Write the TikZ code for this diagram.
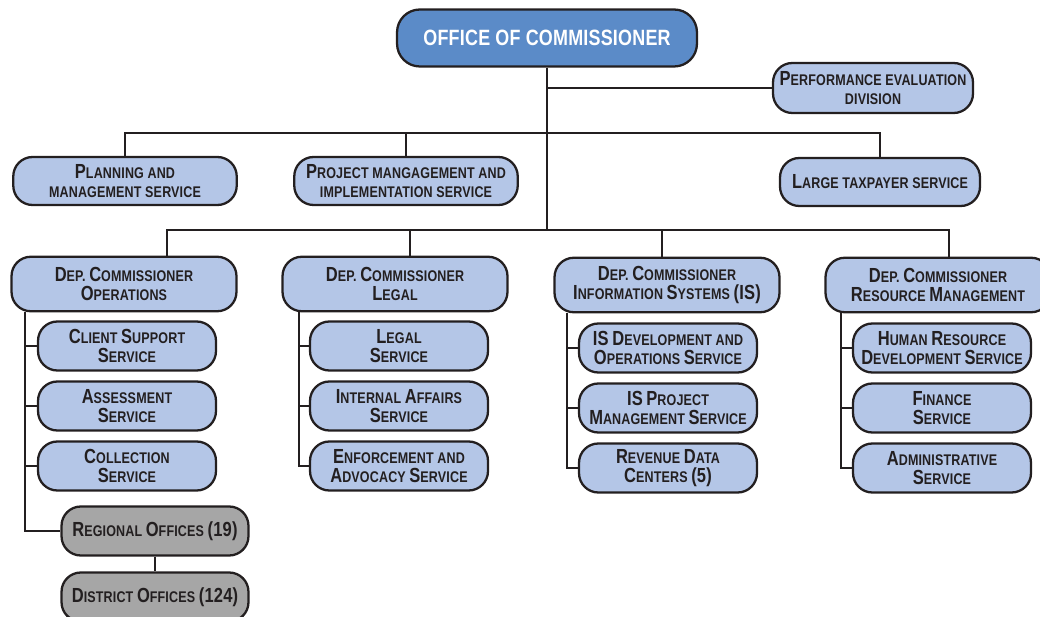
\documentclass[tikz,border=0pt]{standalone}
\usepackage{fontspec}
\newfontfamily\orgfont[FakeStretch=0.81,LetterSpace=1]{Liberation Sans}
\usetikzlibrary{positioning}
\definecolor{topblue}{HTML}{5B8BC8}
\definecolor{boxblue}{HTML}{B4C6E7}
\definecolor{boxgray}{HTML}{A6A6A6}
\definecolor{inkdark}{HTML}{231F20}
\newcommand\capl[1]{{\fontsize{11.6}{12}\selectfont #1}}

\begin{document}
\begin{tikzpicture}[x=0.02cm,y=-0.02cm,line width=1.1pt,draw=inkdark,
  box/.style={draw=inkdark,line width=1.3pt,rounded corners=11pt,fill=boxblue,
    text=inkdark,align=center,inner sep=0pt,
    font=\orgfont\bfseries\fontsize{8.8}{11.2}\selectfont},
  depbox/.style={box,minimum width=4.5cm,minimum height=1.09cm},
  subbox/.style={box,minimum width=3.56cm,minimum height=0.98cm},
  topbox/.style={box,minimum width=4.47cm,minimum height=0.96cm},
  greybox/.style={subbox,fill=boxgray,minimum width=3.74cm}]
\path[use as bounding box] (0,0) rectangle (1040,617);

% head office
\node[box,fill=topblue,text=white,minimum width=6cm,minimum height=1.14cm,
  rounded corners=13pt,font=\orgfont\bfseries\fontsize{12.6}{14}\selectfont] (oc) at (547,38)
  {OFFICE OF COMMISSIONER};
\node[box,minimum width=4cm,minimum height=1cm] (ped) at (873,88)
  {\capl{P}ERFORMANCE EVALUATION\\DIVISION};

% staff units
\node[topbox] (pms) at (125,181) {\capl{P}LANNING AND\\MANAGEMENT SERVICE};
\node[topbox] (pmis) at (406,181) {\capl{P}ROJECT MANGAGEMENT AND\\IMPLEMENTATION SERVICE};
\node[topbox,minimum width=4cm] (lts) at (880,182) {\capl{L}ARGE TAXPAYER SERVICE};

% deputy commissioners
\node[depbox] (dco) at (124,284) {\capl{D}EP. \capl{C}OMMISSIONER\\\capl{O}PERATIONS};
\node[depbox] (dcl) at (395,284) {\capl{D}EP. \capl{C}OMMISSIONER\\\capl{L}EGAL};
\node[depbox] (dcis) at (667,285) {\capl{D}EP. \capl{C}OMMISSIONER\\\capl{I}NFORMATION \capl{S}YSTEMS \capl{(IS)}};
\node[depbox] (dcrm) at (938,285) {\capl{D}EP. \capl{C}OMMISSIONER\\\capl{R}ESOURCE \capl{M}ANAGEMENT};

% operations
\node[subbox] (css) at (127,346) {\capl{C}LIENT \capl{S}UPPORT\\\capl{S}ERVICE};
\node[subbox] (ass) at (127,406) {\capl{A}SSESSMENT\\\capl{S}ERVICE};
\node[subbox] (cls) at (127,466) {\capl{C}OLLECTION\\\capl{S}ERVICE};
\node[greybox] (rgo) at (155,531) {\capl{R}EGIONAL \capl{O}FFICES \capl{(19)}};
\node[greybox] (dso) at (155,597) {\capl{D}ISTRICT \capl{O}FFICES \capl{(124)}};

% legal
\node[subbox] (lgs) at (399,346) {\capl{L}EGAL\\\capl{S}ERVICE};
\node[subbox] (ias) at (399,406) {\capl{I}NTERNAL \capl{A}FFAIRS\\\capl{S}ERVICE};
\node[subbox] (eas) at (399,466) {\capl{E}NFORCEMENT AND\\\capl{A}DVOCACY \capl{S}ERVICE};

% information systems
\node[subbox] (isd) at (668,348) {\capl{IS} \capl{D}EVELOPMENT AND\\\capl{O}PERATIONS \capl{S}ERVICE};
\node[subbox] (isp) at (668,408) {\capl{IS} \capl{P}ROJECT\\\capl{M}ANAGEMENT \capl{S}ERVICE};
\node[subbox] (rdc) at (668,468) {\capl{R}EVENUE \capl{D}ATA\\\capl{C}ENTERS \capl{(5)}};

% resource management
\node[subbox] (hrd) at (942,348) {\capl{H}UMAN \capl{R}ESOURCE\\\capl{D}EVELOPMENT \capl{S}ERVICE};
\node[subbox] (fns) at (942,408) {\capl{F}INANCE\\\capl{S}ERVICE};
\node[subbox] (ads) at (942,468) {\capl{A}DMINISTRATIVE\\\capl{S}ERVICE};

% connector points
\coordinate (tbar) at (547,133);
\coordinate (dbar) at (547,230);
\coordinate (d1) at (167,230);
\coordinate (d2) at (410,230);
\coordinate (d3) at (662,230);
\coordinate (d4) at (949,230);
\coordinate (s1) at (25,0);
\coordinate (s2) at (299,0);
\coordinate (s3) at (567,0);
\coordinate (s4) at (841,0);

% connectors
\draw (oc.south) -- (dbar);
\draw (oc.south |- ped.west) -- (ped.west);
\draw (pms.north) |- (tbar) -| (lts.north);
\draw (pmis.north) -- (pmis.north |- tbar);
\draw (d1 |- dco.north) -- (d1) -- (d4) -- (d4 |- dcrm.north);
\draw (d2) -- (d2 |- dcl.north);
\draw (d3) -- (d3 |- dcis.north);

\draw (s1 |- dco.south) |- (rgo.west);
\foreach \n in {css,ass,cls} \draw (s1 |- \n.west) -- (\n.west);
\draw (rgo.south) -- (dso.north);

\draw (s2 |- dcl.south) |- (eas.west);
\foreach \n in {lgs,ias} \draw (s2 |- \n.west) -- (\n.west);

\draw (s3 |- dcis.south) |- (rdc.west);
\foreach \n in {isd,isp} \draw (s3 |- \n.west) -- (\n.west);

\draw (s4 |- dcrm.south) |- (ads.west);
\foreach \n in {hrd,fns} \draw (s4 |- \n.west) -- (\n.west);
\end{tikzpicture}
\end{document}
